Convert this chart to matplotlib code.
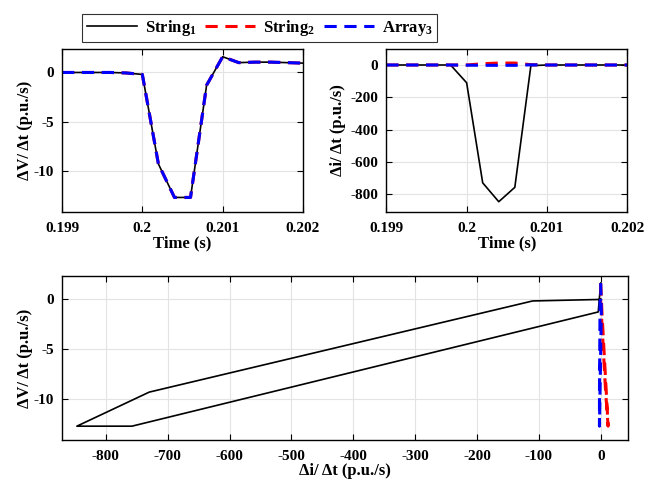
import numpy as np
import matplotlib
matplotlib.use("Agg")
import matplotlib.pyplot as plt

plt.rcParams['font.family'] = ['Liberation Serif', 'DejaVu Serif']
plt.rcParams['font.weight'] = 'bold'
plt.rcParams['mathtext.fontset'] = 'custom'
plt.rcParams['mathtext.rm'] = 'Liberation Serif:bold'
plt.rcParams['mathtext.bf'] = 'Liberation Serif:bold'
plt.rcParams['mathtext.it'] = 'Liberation Serif:bold'
plt.rcParams['axes.unicode_minus'] = False

# time samples (s)
t = [0.1990, 0.1992, 0.1994, 0.1996, 0.1998, 0.2000, 0.2002, 0.2004,
     0.2006, 0.2008, 0.2010, 0.2012, 0.2014, 0.2016, 0.2018, 0.2020]

# dV/dt (p.u./s) - same for all three
dv_str1 = [0.0, 0.0, 0.0, 0.0, -0.05, -0.2, -9.3, -12.7, -12.7, -1.3, 1.6, 1.0, 1.05, 1.05, 1.0, 0.95]
dv_str2 = [0.0, 0.0, 0.0, 0.0, -0.05, -0.2, -9.3, -12.7, -12.7, -1.3, 1.6, 1.0, 1.05, 1.05, 1.0, 0.95]
dv_arr3 = [0.0, 0.0, 0.0, 0.0, -0.05, -0.2, -9.3, -12.7, -12.7, -1.3, 1.6, 1.0, 1.05, 1.05, 1.0, 0.95]

# di/dt (p.u./s)
di_str1 = [0, 0, 0, 0, 0, -110, -730, -847, -758, -4, 0, 0, 0, 0, 0, 0]
di_str2 = [0, 0, 0, 0, 0, 0, 8, 12, 12, 2, 0, 0, 0, 0, 0, 0]
di_arr3 = [0, 0, 0, 0, 0, -1, -2, -2, -2, 1, 0, 0, 0, 0, 0, 0]

labels = [r'String$_{1}$', r'String$_{2}$', r'Array$_{3}$']

fig = plt.figure(figsize=(6.46, 4.79), dpi=100)
ax1 = fig.add_axes([0.096, 0.557, 0.373, 0.341])
ax2 = fig.add_axes([0.598, 0.557, 0.373, 0.341])
ax3 = fig.add_axes([0.096, 0.081, 0.876, 0.343])

def style(ax):
    ax.grid(True, color='#e3e3e3', linewidth=0.8)
    ax.set_axisbelow(True)
    ax.tick_params(direction='in', top=True, right=True, labelsize=11, length=4, width=0.8)
    ax.tick_params(axis='x', pad=7)
    ax.tick_params(axis='y', pad=6)
    for s in ax.spines.values():
        s.set_linewidth(1.0)
    for lab in ax.get_xticklabels() + ax.get_yticklabels():
        lab.set_fontweight('bold')

def draw3(ax, x1, y1, x2, y2, x3, y3):
    l1, = ax.plot(x1, y1, color='black', lw=1.2, label=labels[0])
    l2, = ax.plot(x2, y2, color='red', lw=2.2, ls=(0, (4, 2.5)), label=labels[1])
    l3, = ax.plot(x3, y3, color='blue', lw=2.2, ls=(0, (4, 2.5)), label=labels[2])
    return l1, l2, l3

vlab = 'ΔV/ Δt (p.u./s)'
ilab = 'Δi/ Δt (p.u./s)'

handles = draw3(ax1, t, dv_str1, t, dv_str2, t, dv_arr3)
ax1.set_xlim(0.199, 0.202)
ax1.set_ylim(-14.2, 2.4)
ax1.set_xticks([0.199, 0.2, 0.201, 0.202])
ax1.set_xticklabels(['0.199', '0.2', '0.201', '0.202'])
ax1.set_yticks([-10, -5, 0])
ax1.set_xlabel('Time (s)', fontsize=12, fontweight='bold', labelpad=0)
ax1.set_ylabel(vlab, fontsize=12, fontweight='bold', labelpad=0)
style(ax1)

draw3(ax2, t, di_str1, t, di_str2, t, di_arr3)
ax2.set_xlim(0.199, 0.202)
ax2.set_ylim(-912, 100)
ax2.set_xticks([0.199, 0.2, 0.201, 0.202])
ax2.set_xticklabels(['0.199', '0.2', '0.201', '0.202'])
ax2.set_yticks([-800, -600, -400, -200, 0])
ax2.set_xlabel('Time (s)', fontsize=12, fontweight='bold', labelpad=0)
ax2.set_ylabel(ilab, fontsize=12, fontweight='bold', labelpad=3)
style(ax2)

draw3(ax3, di_str1, dv_str1, di_str2, dv_str2, di_arr3, dv_arr3)
ax3.set_xlim(-871, 44)
ax3.set_ylim(-14.1, 2.3)
ax3.set_xticks([-800, -700, -600, -500, -400, -300, -200, -100, 0])
ax3.set_yticks([-10, -5, 0])
ax3.set_xlabel(ilab, fontsize=12, fontweight='bold', labelpad=0)
ax3.set_ylabel(vlab, fontsize=12, fontweight='bold', labelpad=0)
style(ax3)

leg = fig.legend(handles=handles, loc='center', bbox_to_anchor=(0.402, 0.9415), ncol=3,
                 frameon=True, fancybox=False, edgecolor='black', fontsize=12,
                 handlelength=3.0, columnspacing=0.5, handletextpad=0.5,
                 borderpad=0.25)
leg.get_frame().set_linewidth(0.8)
for txt in leg.get_texts():
    txt.set_fontweight('bold')

fig.savefig('out.png', dpi=100)
